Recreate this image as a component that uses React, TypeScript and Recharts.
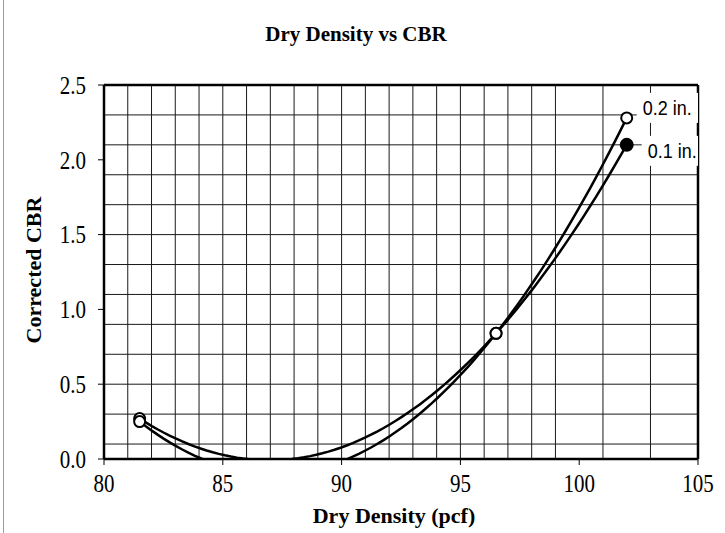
import { CartesianGrid, ComposedChart, Line, Scatter, XAxis, YAxis } from 'recharts';

// dry density (pcf) of the three specimens
const densities = [81.5, 96.5, 102];
// corrected CBR at each penetration
const cbr02 = [0.25, 0.84, 2.28];
const cbr01 = [0.27, 0.84, 2.1];

const xTicks = [80, 85, 90, 95, 100, 105];
const yTicks = [0, 0.5, 1.0, 1.5, 2.0, 2.5];
const xGrid = Array.from({ length: 26 }, (_, i) => 80 + i);
const yGrid = Array.from({ length: 26 }, (_, i) => Math.round(i * 10) / 100);

const serif = '"Liberation Serif", "Times New Roman", serif';
const sans = '"Liberation Sans", Arial, sans-serif';

// 2nd order polynomial trendline (exact through 3 points, like Excel)
const polyTrend = (xs: number[], ys: number[], steps = 80) => {
  const [x0, x1, x2] = xs;
  const [y0, y1, y2] = ys;
  const f = (x: number) =>
    (y0 * (x - x1) * (x - x2)) / ((x0 - x1) * (x0 - x2)) +
    (y1 * (x - x0) * (x - x2)) / ((x1 - x0) * (x1 - x2)) +
    (y2 * (x - x0) * (x - x1)) / ((x2 - x0) * (x2 - x1));
  const lo = Math.min(...xs);
  const hi = Math.max(...xs);
  return Array.from({ length: steps + 1 }, (_, i) => {
    const x = lo + ((hi - lo) * i) / steps;
    return { x, y: f(x) };
  });
};

const toPoints = (ys: number[]) => densities.map((x, i) => ({ x, y: ys[i], idx: i }));

type MarkerOpts = { label: string; filledLast: boolean; dx: number; dy: number; boxW: number };

const makeMarker = (opts: MarkerOpts) => (props: any) => {
  const { cx, cy, payload } = props;
  const last = payload.idx === densities.length - 1;
  const filled = last && opts.filledLast;
  return (
    <g>
      <circle cx={cx} cy={cy} r={filled ? 6 : 5.5} fill={filled ? '#000' : '#fff'} stroke="#000" strokeWidth={2} />
      {last && (
        <g>
          <rect x={cx + opts.dx - 6} y={cy + opts.dy - 15} width={opts.boxW} height={30} fill="#fff" />
          <g transform={`translate(${cx + opts.dx},${cy + opts.dy}) scale(1,1.12)`}>
            <text x={0} y={0} dominantBaseline="central" fontFamily={sans} fontSize={18} fill="#000">
              {opts.label}
            </text>
          </g>
        </g>
      )}
    </g>
  );
};

// tick labels in the source are a little taller than they are wide
const XTick = (props: any) => {
  const { x, y, payload } = props;
  return (
    <g transform={`translate(${x},${y + 12}) scale(1,1.22)`}>
      <text x={0} y={0} textAnchor="middle" dominantBaseline="central" fontFamily={serif} fontSize={21} fill="#000">
        {payload.value}
      </text>
    </g>
  );
};

const YTick = (props: any) => {
  const { x, y, payload } = props;
  return (
    <g transform={`translate(${x},${y}) scale(1,1.22)`}>
      <text x={0} y={0} textAnchor="end" dominantBaseline="central" fontFamily={serif} fontSize={21} fill="#000">
        {Number(payload.value).toFixed(1)}
      </text>
    </g>
  );
};

export default function App() {
  return (
    <div style={{ position: 'absolute', left: 0, top: 0, width: 725, height: 533, background: '#fff', overflow: 'hidden' }}>
      <div style={{ position: 'absolute', left: 3, top: 0, width: 0, height: 533, borderLeft: '1px solid #9a9a9a' }} />
      <div
        style={{
          position: 'absolute',
          left: 0,
          width: 712,
          top: 22,
          textAlign: 'center',
          fontFamily: serif,
          fontWeight: 'bold',
          fontSize: 21,
        }}
      >
        Dry Density vs CBR
      </div>
      <div
        style={{
          position: 'absolute',
          left: 34,
          top: 270,
          transform: 'translate(-50%, -50%) rotate(-90deg)',
          whiteSpace: 'nowrap',
          fontFamily: serif,
          fontWeight: 'bold',
          fontSize: 22,
        }}
      >
        Corrected CBR
      </div>
      <div
        style={{
          position: 'absolute',
          left: 0,
          width: 788,
          top: 503,
          textAlign: 'center',
          fontFamily: serif,
          fontWeight: 'bold',
          fontSize: 22,
        }}
      >
        Dry Density (pcf)
      </div>
      <ComposedChart width={725} height={533} margin={{ top: 85, right: 27, bottom: 34, left: 44 }}>
        <CartesianGrid stroke="#1a1a1a" strokeWidth={1} horizontalValues={yGrid} verticalValues={xGrid} />
        <CartesianGrid stroke="#000" strokeWidth={2.5} horizontalValues={[2.5]} verticalValues={[105]} />
        <XAxis
          type="number"
          dataKey="x"
          domain={[80, 105]}
          ticks={xTicks}
          allowDataOverflow
          height={40}
          tickSize={6}
          tickMargin={6}
          axisLine={{ stroke: '#000', strokeWidth: 2.5 }}
          tickLine={{ stroke: '#000' }}
          tick={<XTick />}
        />
        <YAxis
          type="number"
          domain={[0, 2.5]}
          ticks={yTicks}
          allowDataOverflow
          width={60}
          tickSize={6}
          tickMargin={12}
          axisLine={{ stroke: '#000', strokeWidth: 2.5 }}
          tickLine={{ stroke: '#000' }}
          tick={<YTick />}
        />
        <Line
          data={polyTrend(densities, cbr02)}
          dataKey="y"
          type="linear"
          stroke="#000"
          strokeWidth={2.5}
          dot={false}
          activeDot={false}
          isAnimationActive={false}
        />
        <Line
          data={polyTrend(densities, cbr01)}
          dataKey="y"
          type="linear"
          stroke="#000"
          strokeWidth={2.5}
          dot={false}
          activeDot={false}
          isAnimationActive={false}
        />
        <Scatter
          data={toPoints(cbr01)}
          dataKey="y"
          isAnimationActive={false}
          shape={makeMarker({ label: '0.1 in.', filledLast: true, dx: 21, dy: 6, boxW: 72 })}
        />
        <Scatter
          data={toPoints(cbr02)}
          dataKey="y"
          isAnimationActive={false}
          shape={makeMarker({ label: '0.2 in.', filledLast: false, dx: 16, dy: -10, boxW: 68 })}
        />
      </ComposedChart>
    </div>
  );
}
